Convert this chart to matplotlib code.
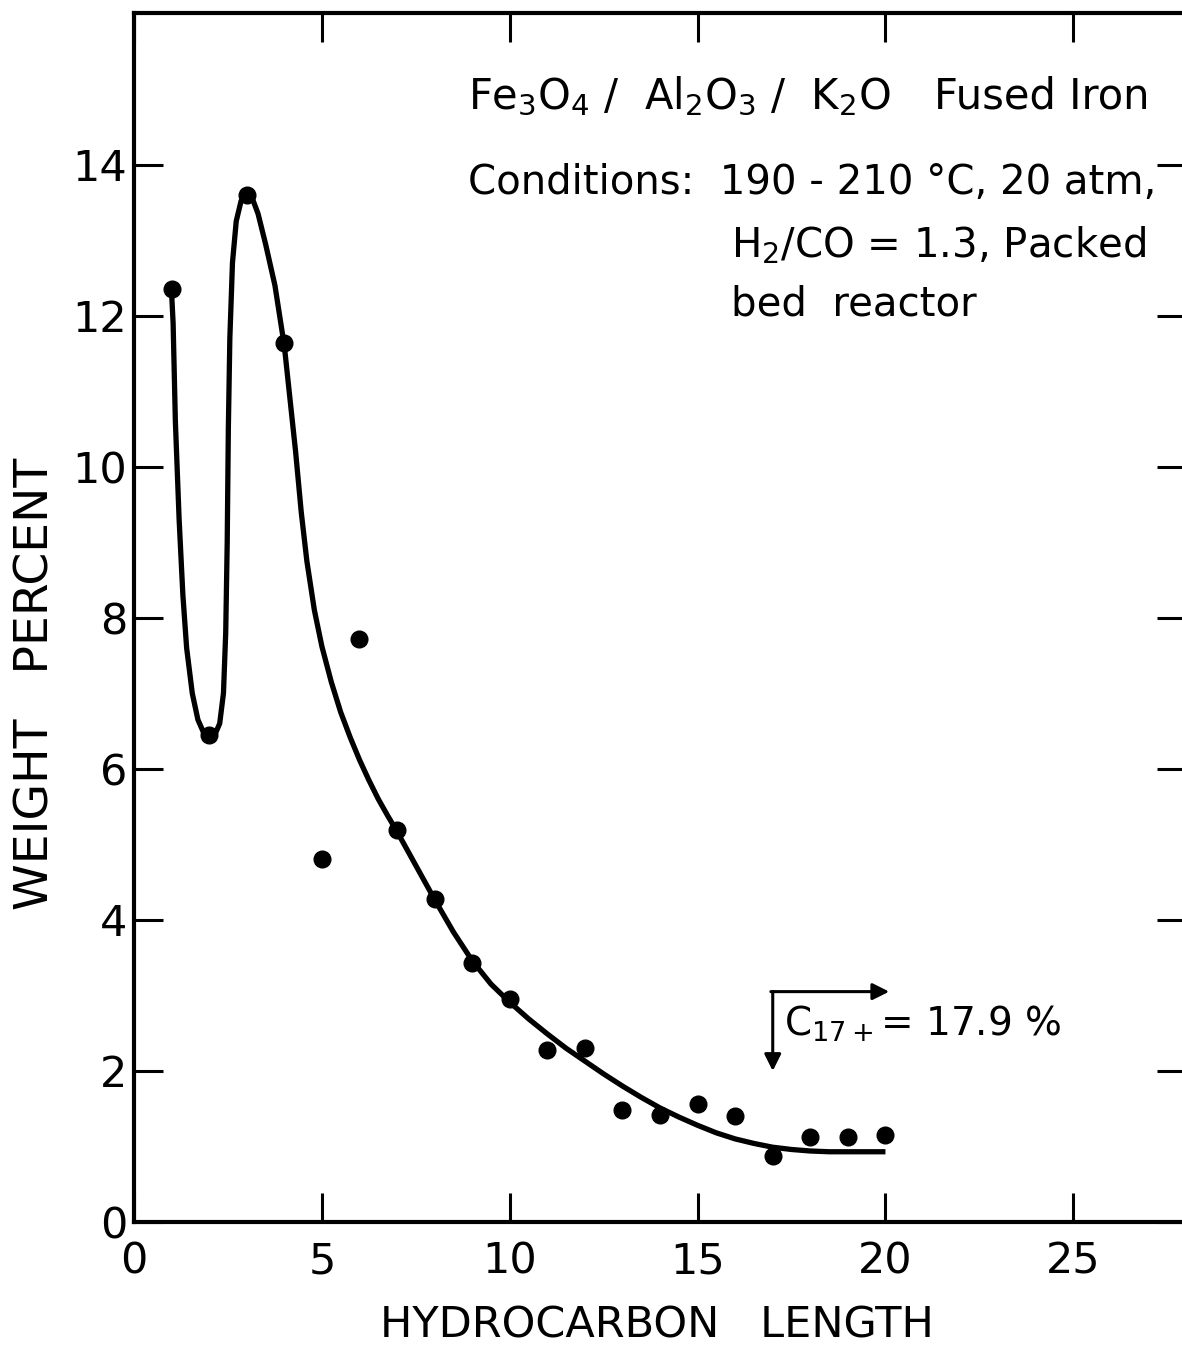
import matplotlib.pyplot as plt
import numpy as np

plt.rcParams['font.family'] = ['DejaVu Sans']
plt.rcParams['mathtext.default'] = 'regular'

# measured points (carbon number vs weight percent)
carbon_number = [1, 2, 3, 4, 5, 6, 7, 8, 9, 10, 11, 12, 13, 14, 15, 16, 17, 18, 19, 20]
weight_pct = [12.35, 6.45, 13.6, 11.64, 4.81, 7.72, 5.19, 4.28, 3.43, 2.95, 2.28, 2.30,
              1.48, 1.41, 1.56, 1.40, 0.88, 1.13, 1.13, 1.15]

# hand-drawn trend curve
curve_x = [1.0, 1.04, 1.1, 1.2, 1.3, 1.4, 1.55, 1.7, 1.85, 2.0, 2.15, 2.28, 2.38, 2.44,
           2.48, 2.51, 2.55, 2.62, 2.72, 2.85, 3.0, 3.15, 3.3, 3.5, 3.75, 4.0, 4.15, 4.3,
           4.45, 4.6, 4.8, 5.0, 5.25, 5.5, 5.75, 6.0, 6.25, 6.5, 6.75, 7.0, 7.5, 8.0,
           8.5, 9.0, 9.5, 10.0, 10.5, 11.0, 11.5, 12.0, 12.5, 13.0, 13.5, 14.0, 14.5,
           15.0, 15.5, 16.0, 16.5, 17.0, 17.5, 18.0, 18.5, 19.0, 19.5, 20.0]
curve_y = [12.3, 11.9, 10.6, 9.3, 8.3, 7.6, 7.0, 6.65, 6.48, 6.42, 6.45, 6.6, 7.0, 7.8,
           9.0, 10.5, 11.7, 12.7, 13.25, 13.52, 13.62, 13.55, 13.35, 12.95, 12.4, 11.6,
           10.9, 10.2, 9.4, 8.75, 8.1, 7.62, 7.15, 6.75, 6.42, 6.12, 5.85, 5.6, 5.38,
           5.17, 4.72, 4.27, 3.84, 3.46, 3.15, 2.91, 2.69, 2.49, 2.30, 2.13, 1.96, 1.80,
           1.65, 1.51, 1.39, 1.28, 1.18, 1.10, 1.04, 0.99, 0.96, 0.94, 0.93, 0.93, 0.93,
           0.93]

x_ticks = [0, 5, 10, 15, 20, 25]
y_ticks = [0, 2, 4, 6, 8, 10, 12, 14]

fig = plt.figure(figsize=(11.82, 13.47), dpi=100)
ax = fig.add_axes([0.1134, 0.0928, 0.8900, 0.8972])

ax.plot(curve_x, curve_y, color='black', lw=3.8, solid_capstyle='butt')
ax.plot(carbon_number, weight_pct, 'o', color='black', ms=12)

ax.set_xlim(0, 28)
ax.set_ylim(0, 16)
ax.set_xticks(x_ticks)
ax.set_yticks(y_ticks)
ax.set_xticklabels([str(t) for t in x_ticks])
ax.set_yticklabels([str(t) for t in y_ticks])
ax.tick_params(direction='in', length=21, width=2.2, labelsize=31,
               top=True, right=True)
ax.tick_params(axis='x', pad=13)
ax.tick_params(axis='y', pad=5)
for s in ax.spines.values():
    s.set_linewidth(3.0)

ax.set_xlabel('HYDROCARBON   LENGTH', fontsize=31)
ax.set_ylabel('WEIGHT   PERCENT', fontsize=34)
ax.xaxis.set_label_coords(0.497, -0.068)
ax.yaxis.set_label_coords(-0.072, 0.445)

ax.text(8.9, 14.9, 'Fe$_3$O$_4$ /  Al$_2$O$_3$ /  K$_2$O', fontsize=30,
        va='center', ha='left')
ax.text(21.3, 14.9, 'Fused Iron', fontsize=30, va='center', ha='left')
ax.text(8.9, 13.75, 'Conditions:  190 - 210 °C, 20 atm,',
        fontsize=29, va='center', ha='left')
ax.text(15.9, 12.93, 'H$_2$/CO = 1.3, Packed', fontsize=29, va='center', ha='left')
ax.text(15.9, 12.15, 'bed  reactor', fontsize=29, va='center', ha='left')

# C17+ bracket arrow
ax.annotate('', xy=(20.1, 3.05), xytext=(16.95, 3.05),
            arrowprops=dict(arrowstyle='-|>', color='black', lw=2.2,
                            mutation_scale=25, shrinkA=0, shrinkB=0))
ax.annotate('', xy=(17.0, 2.0), xytext=(17.0, 3.05),
            arrowprops=dict(arrowstyle='-|>', color='black', lw=2.2,
                            mutation_scale=25, shrinkA=0, shrinkB=0))
ax.text(17.3, 2.62, 'C$_{17+}$= 17.9 %', fontsize=28, va='center', ha='left')

fig.savefig('out.png', dpi=100)
